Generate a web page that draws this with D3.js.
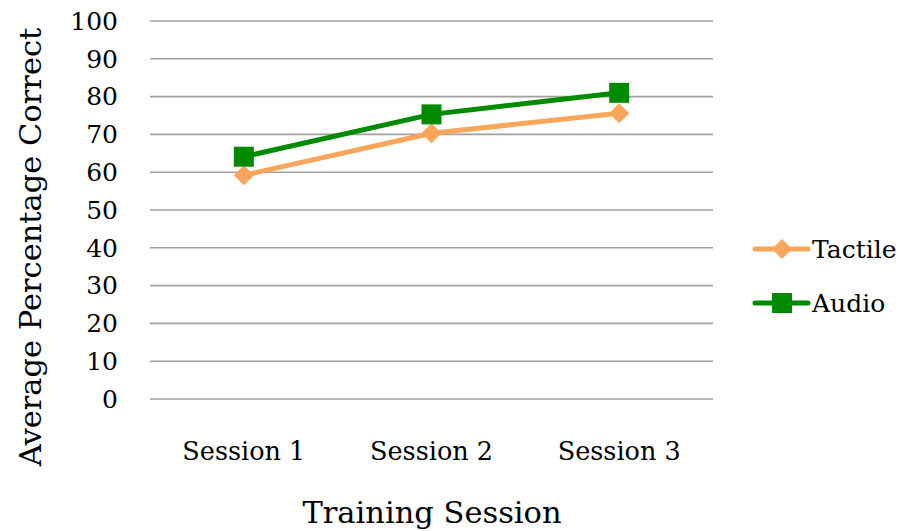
<!DOCTYPE html>
<html><head><meta charset="utf-8">
<script src="https://cdn.jsdelivr.net/npm/d3@7"></script>
<style>body{margin:0;background:#fff}svg{display:block}text{font-family:"DejaVu Serif","Liberation Serif",serif;fill:#000}</style>
</head><body><svg id="c" width="904" height="531"></svg>
<script>
const categories = ["Session 1", "Session 2", "Session 3"];
const tactile = [59.2, 70.3, 75.6];
const audio = [64.1, 75.3, 81.0];
const yTicks = [0,10,20,30,40,50,60,70,80,90,100];
const seriesNames = ["Tactile", "Audio"];
const colors = ["#F9A65A", "#008A00"];

const svg = d3.select("#c");
const L = 150, R = 713, T = 21, B = 399;
const x = d3.scaleBand().domain(categories).range([L, R]);
const y = d3.scaleLinear().domain([0, 100]).range([B, T]);

svg.append("g").selectAll("line").data(yTicks).join("line")
  .attr("x1", L).attr("x2", R).attr("y1", d => y(d)).attr("y2", d => y(d))
  .attr("stroke", "#A0A0A0").attr("stroke-width", 1.6);

svg.append("g").selectAll("text").data(yTicks).join("text")
  .attr("x", 118).attr("y", d => y(d)).attr("dy", "0.35em").attr("text-anchor", "end")
  .style("font-size", "25px").text(d => d);

svg.append("g").selectAll("text").data(categories).join("text")
  .attr("x", d => x(d) + x.bandwidth()/2).attr("y", 460).attr("text-anchor", "middle")
  .style("font-size", "25.5px").text(d => d);

svg.append("text").attr("x", 432).attr("y", 523).attr("text-anchor", "middle")
  .style("font-size", "30.5px").text("Training Session");
svg.append("text").attr("transform", "translate(41,247) rotate(-90)").attr("text-anchor", "middle")
  .style("font-size", "30.5px").text("Average Percentage Correct");

const cx = d => x(d) + x.bandwidth()/2;
const line = d3.line().x(d => cx(d.c)).y(d => y(d.v));
const data = [tactile, audio].map((arr, i) => arr.map((v, j) => ({c: categories[j], v})));

function marker(g, i, px, py) {
  if (i === 0) {
    g.append("path").attr("d", `M${px},${py-10}L${px+10},${py}L${px},${py+10}L${px-10},${py}Z`).attr("fill", colors[0]);
  } else {
    g.append("rect").attr("x", px-10).attr("y", py-10).attr("width", 20).attr("height", 20).attr("fill", colors[1]);
  }
}

data.forEach((d, i) => {
  const g = svg.append("g");
  g.append("path").attr("d", line(d)).attr("fill", "none").attr("stroke", colors[i])
    .attr("stroke-width", 5).attr("stroke-linejoin", "round").attr("stroke-linecap", "round");
  d.forEach(p => marker(g, i, cx(p.c), y(p.v)));
});

const legY = [249, 303];
seriesNames.forEach((n, i) => {
  const g = svg.append("g");
  g.append("line").attr("x1", 755).attr("x2", 808).attr("y1", legY[i]).attr("y2", legY[i])
    .attr("stroke", colors[i]).attr("stroke-width", 5).attr("stroke-linecap", "round");
  marker(g, i, 782, legY[i]);
  g.append("text").attr("x", 812).attr("y", legY[i]).attr("dy", "0.35em").style("font-size", "25px").text(n);
});
</script></body></html>
